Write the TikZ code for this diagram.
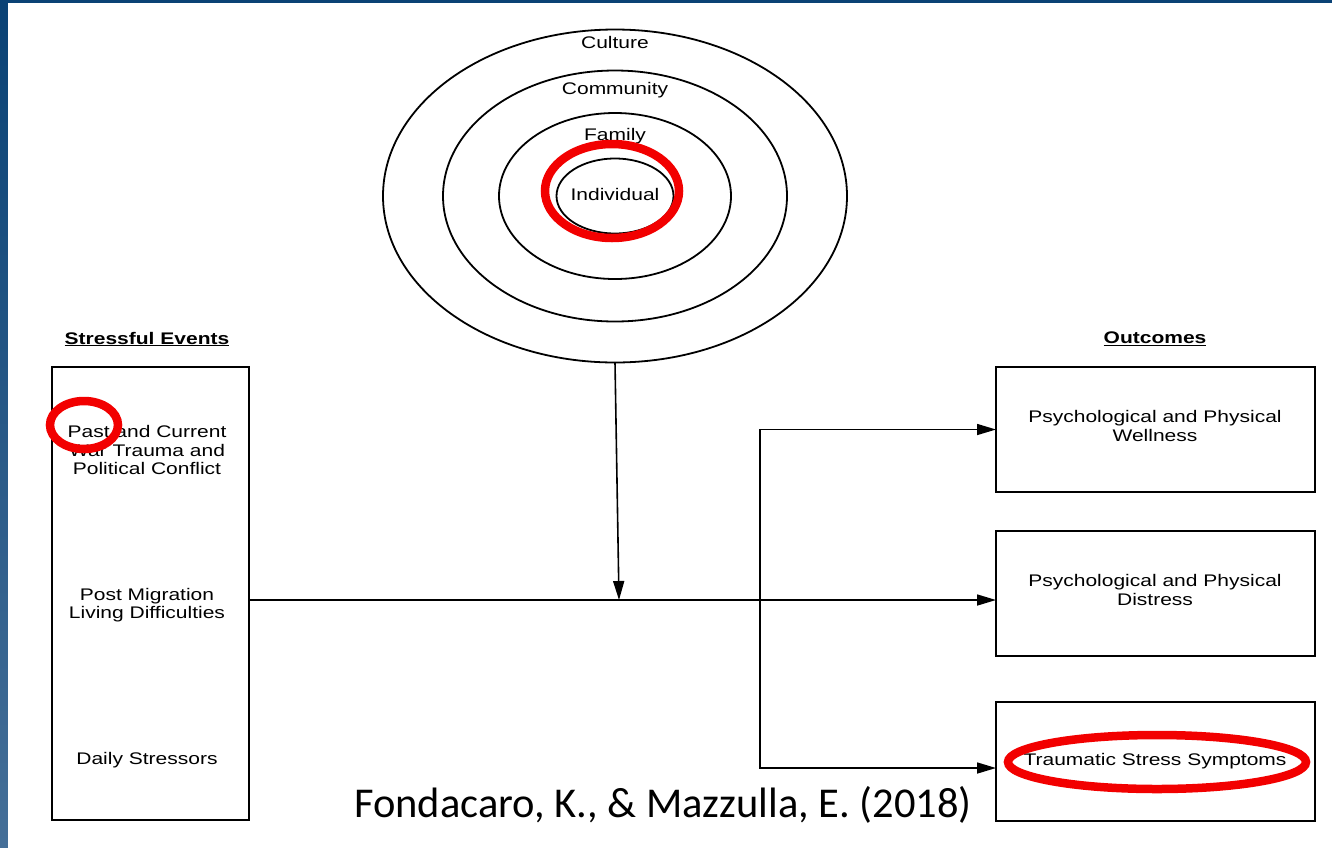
\documentclass[tikz,border=0pt]{standalone}
\usepackage{fontspec}
\usepackage{tikz}
\usetikzlibrary{shapes.geometric, arrows.meta}
\newfontfamily\diagfont{Liberation Sans}[FakeStretch=1.25]
\newfontfamily\citefont{Carlito}
\definecolor{slidetop}{HTML}{0A4275}
\definecolor{slidebot}{HTML}{456F98}
\definecolor{markred}{HTML}{F20000}

\begin{document}
\begin{tikzpicture}[x=1pt, y=-1pt,
  ring/.style={draw, ellipse, line width=1.8pt, inner sep=0pt, outer sep=0pt},
  box/.style={draw, rectangle, line width=2pt, inner sep=0pt, outer sep=0pt},
  txt/.style={align=center, inner sep=0pt, font=\diagfont\fontsize{16.8}{18.5}\selectfont},
  head/.style={txt, font=\diagfont\bfseries\fontsize{16.8}{18.5}\selectfont},
  arr/.style={line width=1.6pt, -{Triangle[length=19pt, width=11pt]}},
  hilite/.style={draw=markred, line width=8.5pt}]
  \useasboundingbox (0,0) rectangle (1332,847);

  % slide background
  \fill[top color=slidetop, bottom color=slidebot] (0,0) rectangle (1332,847);
  \fill[white] (8,3) rectangle (1340,855);

  % nested circles
  \node[ring, minimum width=464, minimum height=333] (culture) at (615,196) {};
  \node[ring, minimum width=344, minimum height=251] (community) at (615,196) {};
  \node[ring, minimum width=232, minimum height=166] (family) at (615,196) {};
  \node[ring, minimum width=117, minimum height=75] (individual) at (615,196) {};
  \node[txt] (culturelbl) at (615,42) {Culture};
  \node[txt] (communitylbl) at (615,90) {Community};
  \node[txt] (familylbl) at (615,136) {Family};
  \node[txt] (individuallbl) at (615,194) {Individual};

  % stressful events
  \node[head] (eventshead) at (147,339) {\underline{Stressful Events}};
  \node[box, minimum width=197, minimum height=453] (events) at (150.5,593.5) {};
  \node[txt] (past) at (147,450) {Past and Current\\War Trauma and\\Political Conflict};
  \node[txt] (postmig) at (147,605) {Post Migration\\Living Difficulties};
  \node[txt] (daily) at (147,760) {Daily Stressors};

  % outcomes
  \node[head] (outhead) at (1155,339) {\underline{Outcomes}};
  \node[box, minimum width=319, minimum height=125] (wellness) at (1155.5,429.5) {};
  \node[box, minimum width=319, minimum height=125] (distress) at (1155.5,593.5) {};
  \node[box, minimum width=319, minimum height=119] (trauma) at (1155.5,761.5) {};
  \node[txt] (wellnesstxt) at (1155,426) {Psychological and Physical\\Wellness};
  \node[txt] (distresstxt) at (1155,590) {Psychological and Physical\\Distress};
  \node[txt] (traumatxt) at (1155,761) {Traumatic Stress Symptoms};

  % connectors
  \coordinate (join) at (619,600);
  \coordinate (fork) at (760,600);
  \draw[arr] (events.east |- join) -- (distress.west |- join);
  \draw[arr] (culture.south) -- (join);
  \draw[arr] (fork) |- (wellness.west);
  \draw[arr] (fork) |- ([yshift=-6.5pt]trauma.west);

  % highlights
  \draw[hilite] (612,191) ellipse [x radius=67, y radius=47];
  \draw[hilite] (84,425) ellipse [x radius=34, y radius=24];
  \draw[hilite] (1157,762) ellipse [x radius=149, y radius=27];

  % citation
  \node[inner sep=0pt, font=\citefont\fontsize{42.5}{50}\selectfont] (cite) at (663,805) {Fondacaro, K., \& Mazzulla, E. (2018)};
\end{tikzpicture}
\end{document}
